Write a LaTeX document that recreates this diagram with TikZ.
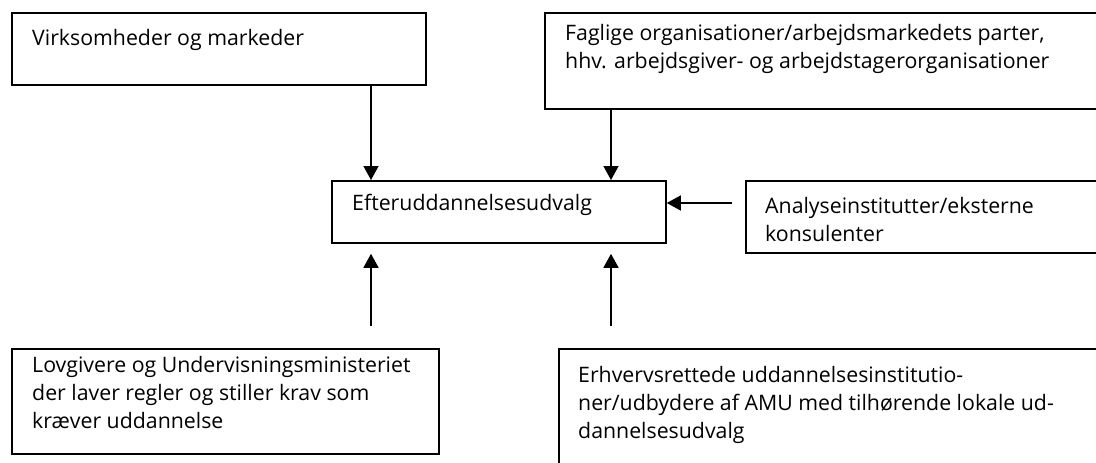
\documentclass[tikz,border=0pt]{standalone}
\usepackage{fontspec}
\setmainfont{Open Sans}
\usetikzlibrary{arrows.meta,calc}
\tikzset{
  box/.style={draw=black, line width=1.8pt, fill=none, inner sep=0pt, anchor=north west},
  txt/.style={inner sep=0pt, anchor=north west, align=left, font=\fontsize{21.3}{28}\selectfont},
  arr/.style={line width=1.4pt, -{Triangle[length=14pt,width=15pt]}}
}
\begin{document}
\begin{tikzpicture}[x=1pt,y=-1pt]
\useasboundingbox (0,0) rectangle (1096,463);
\fill[white] (0,0) rectangle (1096,463);
\clip (0,0) rectangle (1096,463);
% boxes
\node[box, minimum width=414pt, minimum height=72pt] (vm) at (11,12) {};
\node[box, minimum width=566pt, minimum height=96pt] (fo) at (544,12) {};
\node[box, minimum width=334pt, minimum height=62pt] (eu) at (331,180) {};
\node[box, minimum width=365pt, minimum height=72pt] (ai) at (745,180) {};
\node[box, minimum width=427pt, minimum height=105pt] (lu) at (11,348) {};
\node[box, minimum width=552pt, minimum height=132pt] (eu2) at (558,348) {};
% texts (top = first baseline - 19.6)
\node[txt] (tvm) at (32,25.4) {\strut Virksomheder og markeder};
\node[txt] (tfo) at (565,20.4) {\strut Faglige organisationer/arbejdsmarkedets parter,\\hhv. arbejdsgiver- og arbejdstagerorganisationer};
\node[txt] (teu) at (352,190.4) {\strut Efteruddannelsesudvalg};
\node[txt] (tai) at (765,193.4) {\strut Analyseinstitutter/eksterne\\konsulenter};
\node[txt] (tlu) at (32,352.4) {\strut Lovgivere og Undervisningsministeriet\\der laver regler og stiller krav som\\kræver uddannelse};
\node[txt] (teu2) at (578,362.4) {\strut Erhvervsrettede uddannelsesinstitutio-\\ner/udbydere af AMU med tilhørende lokale ud-\\dannelsesudvalg};
% arrow columns
\coordinate (xl) at (371,0);
\coordinate (xr) at (611,0);
% connectors
\draw[arr] (vm.south -| xl) -- (eu.north -| xl);
\draw[arr] (fo.south -| xr) -- (eu.north -| xr);
\draw[arr, shorten <=13pt] (ai.west |- 0,203) -- (eu.east |- 0,203);
\draw[arr, shorten <=22pt, shorten >=10pt] (lu.north -| xl) -- (eu.south -| xl);
\draw[arr, shorten <=22pt, shorten >=10pt] (eu2.north -| xr) -- (eu.south -| xr);
\end{tikzpicture}
\end{document}
